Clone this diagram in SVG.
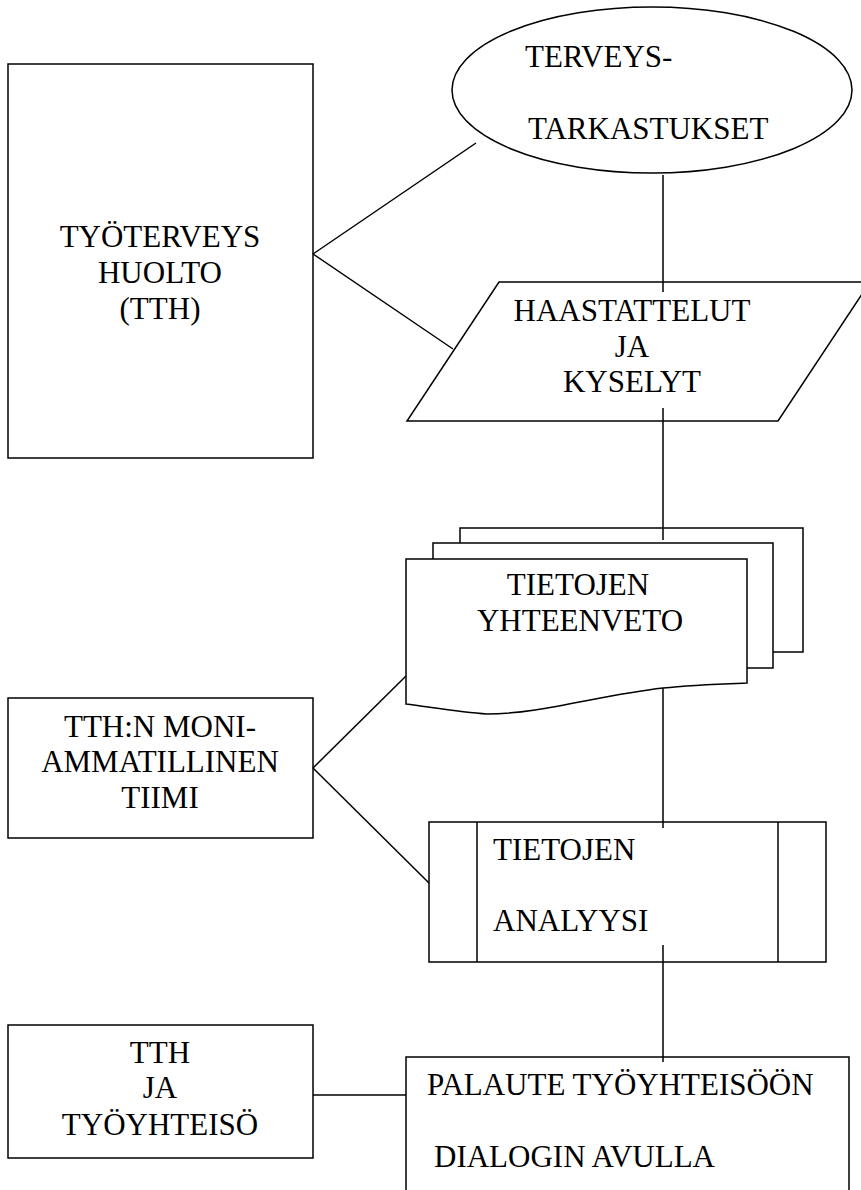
<svg xmlns="http://www.w3.org/2000/svg" width="861" height="1190" viewBox="0 0 861 1190">
<defs>
<style>
.s{fill:#fff;stroke:#000;stroke-width:1.5}
.l{fill:none;stroke:#000;stroke-width:1.5}
</style>
</defs>
<rect width="861" height="1190" fill="#fff"/>
<g id="tth">
<rect class="s" x="8" y="64" width="305" height="394"/>
<text x="160" y="247" text-anchor="middle" font-family="'Liberation Serif'" font-size="31">TYÖTERVEYS</text>
<text x="160" y="283" text-anchor="middle" font-family="'Liberation Serif'" font-size="31">HUOLTO</text>
<text x="160" y="319" text-anchor="middle" font-family="'Liberation Serif'" font-size="31">(TTH)</text>
</g>
<g id="terveys">
<ellipse class="s" cx="652" cy="90" rx="200" ry="83"/>
<text x="525" y="67" font-family="'Liberation Serif'" font-size="31">TERVEYS-</text>
<text x="528" y="139" font-family="'Liberation Serif'" font-size="31">TARKASTUKSET</text>
</g>
<g id="haastattelut">
<polygon class="s" points="499,282 870,282 778,421 407,421"/>
<text x="632" y="321" text-anchor="middle" font-family="'Liberation Serif'" font-size="31">HAASTATTELUT</text>
<text x="632" y="357" text-anchor="middle" font-family="'Liberation Serif'" font-size="31">JA</text>
<text x="632" y="392" text-anchor="middle" font-family="'Liberation Serif'" font-size="31">KYSELYT</text>
</g>
<g id="yhteenveto">
<polyline class="s" points="460,543 460,528 803,528 803,652 773,652"/>
<polyline class="s" points="433,559 433,543 773,543 773,668 747,668"/>
<path class="s" d="M406,559 L747,559 L747,683 C720,684 690,685 663,688 C600,695 540,714 487,714 C460,712 430,707 406,704 Z"/>
<text x="578" y="595" text-anchor="middle" font-family="'Liberation Serif'" font-size="31">TIETOJEN</text>
<text x="580" y="631" text-anchor="middle" font-family="'Liberation Serif'" font-size="31">YHTEENVETO</text>
</g>
<g id="moni">
<rect class="s" x="8" y="698" width="305" height="140"/>
<text x="160" y="737" text-anchor="middle" font-family="'Liberation Serif'" font-size="31">TTH:N MONI-</text>
<text x="160" y="772" text-anchor="middle" font-family="'Liberation Serif'" font-size="31">AMMATILLINEN</text>
<text x="160" y="808" text-anchor="middle" font-family="'Liberation Serif'" font-size="31">TIIMI</text>
</g>
<g id="analyysi">
<rect class="s" x="429" y="822" width="397" height="140"/>
<line class="l" x1="477" y1="822" x2="477" y2="962"/>
<line class="l" x1="778" y1="822" x2="778" y2="962"/>
<text x="493" y="860" font-family="'Liberation Serif'" font-size="31">TIETOJEN</text>
<text x="493" y="931" font-family="'Liberation Serif'" font-size="31">ANALYYSI</text>
</g>
<g id="tthja">
<rect class="s" x="8" y="1025" width="305" height="133"/>
<text x="160" y="1063" text-anchor="middle" font-family="'Liberation Serif'" font-size="31">TTH</text>
<text x="160" y="1098" text-anchor="middle" font-family="'Liberation Serif'" font-size="31">JA</text>
<text x="160" y="1135" text-anchor="middle" font-family="'Liberation Serif'" font-size="31">TYÖYHTEISÖ</text>
</g>
<g id="palaute">
<rect class="s" x="406" y="1057" width="443" height="150"/>
<text x="427" y="1095" font-family="'Liberation Serif'" font-size="31">PALAUTE TYÖYHTEISÖÖN</text>
<text x="434" y="1167" font-family="'Liberation Serif'" font-size="31">DIALOGIN AVULLA</text>
</g>
<g id="connectors">
<line class="l" x1="313" y1="254" x2="476" y2="143"/>
<line class="l" x1="313" y1="254" x2="453" y2="349"/>
<line class="l" x1="663" y1="175" x2="663" y2="292"/>
<line class="l" x1="663" y1="408" x2="663" y2="540"/>
<line class="l" x1="313" y1="768" x2="406" y2="676"/>
<line class="l" x1="313" y1="768" x2="429" y2="883"/>
<line class="l" x1="663" y1="688" x2="663" y2="828"/>
<line class="l" x1="663" y1="945" x2="663" y2="1062"/>
<line class="l" x1="313" y1="1095" x2="406" y2="1095"/>
</g>
</svg>
